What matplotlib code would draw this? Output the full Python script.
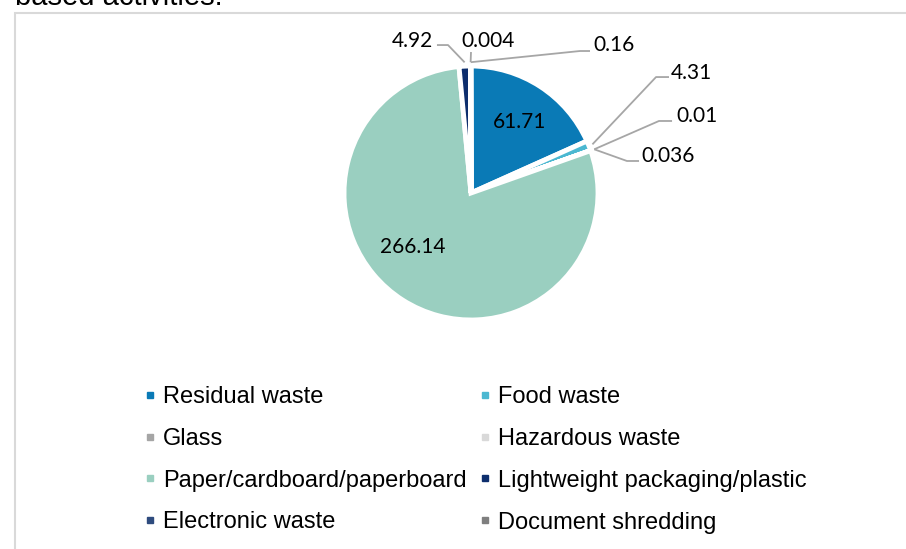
import numpy as np
import matplotlib
matplotlib.use('Agg')
import matplotlib.pyplot as plt
from matplotlib.lines import Line2D
from matplotlib.patches import Rectangle

# Данные диаграммы
categories = ['Residual waste', 'Food waste', 'Glass', 'Hazardous waste',
              'Paper/cardboard/paperboard', 'Lightweight packaging/plastic',
              'Electronic waste', 'Document shredding']
values = [61.71, 4.31, 0.01, 0.036, 266.14, 4.92, 0.004, 0.16]
colors = ['#0a7ab6', '#4bb8d1', '#a5a5a5', '#d9d9d9',
          '#9acfc0', '#0d2e6d', '#2e4b7e', '#7f7f7f']

# Размер картинки 906x549
W, H = 906, 549
fig = plt.figure(figsize=(W / 100, H / 100), dpi=100)

# Центр и радиус круга в пикселях
cx, cy, r = 471, 193, 127
ax = fig.add_axes([(cx - r) / W, (H - cy - r) / H, 2 * r / W, 2 * r / H])

wedges, _ = ax.pie(values, colors=colors, startangle=90, counterclock=False,
                   radius=1, wedgeprops=dict(edgecolor='white', linewidth=3.5))
ax.set_xlim(-1, 1)
ax.set_ylim(-1, 1)
ax.axis('off')

lbl_font = dict(family='Lato', fontsize=15, color='black')

# Подписи внутри сегментов
inside = {0: (0.386, 0.560), 4: (-0.457, -0.425)}
for i, (x, y) in inside.items():
    ax.text(x, y, f"{values[i]:g}", ha='center', va='center', **lbl_font)

# Подписи с выносками: (излом, конец линии, позиция текста, выравнивание)
callouts = {
    5: ((-0.181, 1.165), (-0.268, 1.165), (-0.300, 1.197), 'right'),
    6: ((0.0, 1.110), (0.0, 1.110), (-0.079, 1.197), 'left'),
    7: ((0.858, 1.118), (0.937, 1.118), (0.960, 1.165), 'left'),
    1: ((1.457, 0.913), (1.559, 0.913), (1.575, 0.945), 'left'),
    2: ((1.480, 0.567), (1.583, 0.567), (1.614, 0.606), 'left'),
    3: ((1.228, 0.252), (1.323, 0.252), (1.339, 0.291), 'left'),
}
for i, (elbow, end, tpos, ha) in callouts.items():
    w = wedges[i]
    ang = np.deg2rad((w.theta1 + w.theta2) / 2)
    ax0, ay0 = 1.03 * np.cos(ang), 1.03 * np.sin(ang)
    ax.plot([ax0, elbow[0], end[0]], [ay0, elbow[1], end[1]],
            color='#a6a6a6', lw=1.3, clip_on=False, solid_capstyle='butt')
    ax.text(tpos[0], tpos[1], f"{values[i]:g}", ha=ha, va='center', **lbl_font)

# Легенда: заполняется по столбцам, поэтому переставляем порядок
handles = [Line2D([], [], marker='s', linestyle='none', markersize=5,
                  markerfacecolor=c, markeredgecolor=c) for c in colors]
order = [0, 2, 4, 6, 1, 3, 5, 7]
fig.legend([handles[k] for k in order], [categories[k] for k in order],
           ncol=2, loc='upper left',
           bbox_to_anchor=(144 / W, 1 - 386 / H), frameon=False,
           prop=dict(family='Liberation Sans', size=17),
           handlelength=0.5, handletextpad=0.3, columnspacing=0.55,
           labelspacing=0.84, borderpad=0, borderaxespad=0)

# Обрезанный заголовок сверху и рамка
fig.text(15 / W, 1 - 5 / H, 'based activities.', ha='left', va='baseline',
         family='Liberation Sans', fontsize=21)
fig.patches.append(Rectangle((15 / W, -0.1), 1.2, (H - 13) / H + 0.1,
                             transform=fig.transFigure, fill=False,
                             edgecolor='#d9d9d9', lw=1.5))

fig.savefig('out.png', dpi=100)
plt.close(fig)
